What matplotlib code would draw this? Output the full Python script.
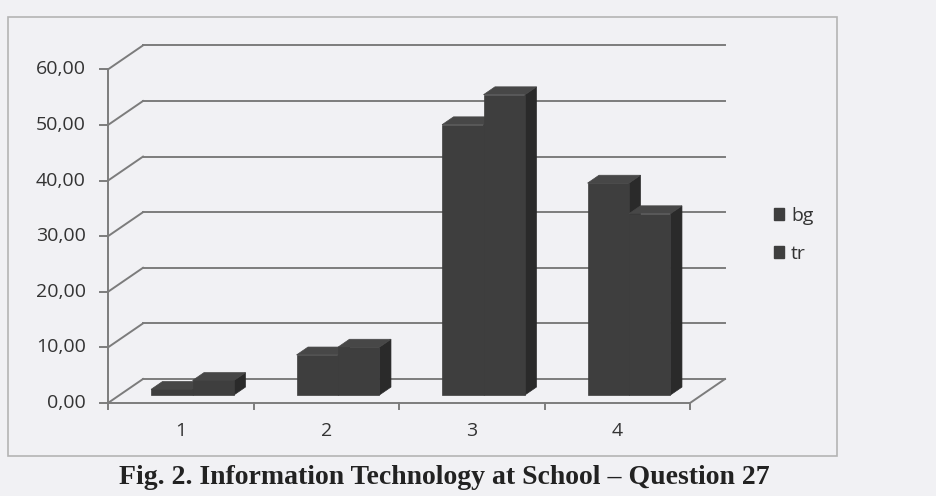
import matplotlib.pyplot as plt
from matplotlib.patches import Polygon, Rectangle, Patch

# === DATA ===
categories = ["1", "2", "3", "4"]
series_names = ["bg", "tr"]
bg_values = [1.0, 7.2, 48.6, 38.1]
tr_values = [2.6, 8.6, 54.0, 32.6]
y_ticks = [0, 10, 20, 30, 40, 50, 60]
y_tick_labels = ["0,00", "10,00", "20,00", "30,00", "40,00", "50,00", "60,00"]
caption = "Fig. 2. Information Technology at School \u2013 Question 27"

# === SETTINGS ===
W, H, DPI = 936, 496, 100
bg_color = "#f1f1f4"
grid_color = "#7c7c7c"
text_color = "#333333"
face_front = "#3e3e3e"
face_top = "#474747"
face_side = "#2a2a2a"

# pixel layout of the projected plot box
px_x0, px_cat = 108, 145.5       # left front floor corner, pixels per category
px_y0, px_val = 403, 5.56        # front zero line, pixels per value unit
depth_px = (35, 24)              # floor depth offset (right, up) in pixels
DX = depth_px[0] / px_cat
DY = depth_px[1] / px_val
d_front, d_back = 0.336, 0.664   # bar depth position as a fraction of floor depth
bar_w = 0.285


def xd(px):
    return 0.5 + (px - px_x0) / px_cat


def yd(py):
    return (px_y0 - py) / px_val


fig = plt.figure(figsize=(W / DPI, H / DPI), dpi=DPI, facecolor=bg_color)
ax = fig.add_axes([0, 0, 1, 1])
ax.set_xlim(xd(0), xd(W))
ax.set_ylim(yd(H), yd(0))
ax.axis("off")

n = len(categories)
x_left, x_right = 0.5, n + 0.5
ymax = y_ticks[-1]

# === WALLS / GRID ===
for v, lab in zip(y_ticks, y_tick_labels):
    # back wall line
    ax.plot([x_left + DX, x_right + DX], [v + DY, v + DY], color=grid_color, lw=1.4, zorder=1)
    # side wall diagonal
    ax.plot([x_left, x_left + DX], [v, v + DY], color=grid_color, lw=1.4, zorder=1)
    # y tick
    ax.plot([x_left - 8 / px_cat, x_left], [v, v], color=grid_color, lw=1.4, zorder=1)
    ax.text(xd(86), v, lab, ha="right", va="center",
            fontsize=14, family="Open Sans", color=text_color)

# floor
ax.plot([x_left, x_right], [0, 0], color=grid_color, lw=1.4, zorder=1)
ax.plot([x_right, x_right + DX], [0, DY], color=grid_color, lw=1.4, zorder=1)
ax.plot([x_left, x_left], [0, ymax], color=grid_color, lw=1.4, zorder=1)
for i in range(n + 1):
    xb = x_left + i
    ax.plot([xb, xb], [0, -6 / px_val], color=grid_color, lw=1.4, zorder=1)
for i, c in enumerate(categories):
    ax.text(i + 1, yd(431), c, ha="center", va="center", fontsize=14,
            family="Open Sans", color=text_color)


# === BARS ===
def draw_bar(x0, x1, h):
    fx, fy = d_front * DX, d_front * DY
    bx, by = d_back * DX, d_back * DY
    front = [(x0 + fx, fy), (x1 + fx, fy), (x1 + fx, h + fy), (x0 + fx, h + fy)]
    top = [(x0 + fx, h + fy), (x1 + fx, h + fy), (x1 + bx, h + by), (x0 + bx, h + by)]
    side = [(x1 + fx, fy), (x1 + bx, by), (x1 + bx, h + by), (x1 + fx, h + fy)]
    ax.add_patch(Polygon(side, closed=True, facecolor=face_side, edgecolor=face_side, lw=0.5, zorder=3))
    ax.add_patch(Polygon(top, closed=True, facecolor=face_top, edgecolor=face_top, lw=0.5, zorder=3))
    ax.add_patch(Polygon(front, closed=True, facecolor=face_front, edgecolor=face_front, lw=0.5, zorder=3))


for i in range(n):
    cx = i + 1
    draw_bar(cx - bar_w, cx, bg_values[i])
    draw_bar(cx, cx + bar_w, tr_values[i])

# === LEGEND ===
handles = [Patch(facecolor=face_front, edgecolor=face_front, label=s) for s in series_names]
leg = ax.legend(handles=handles, loc="center left", bbox_to_anchor=(756 / W, 1 - 235 / H),
                bbox_transform=fig.transFigure, frameon=False, handlelength=0.55,
                handleheight=0.55, handletextpad=0.35, labelspacing=1.05,
                prop={"family": "Open Sans", "size": 14})
for t in leg.get_texts():
    t.set_color(text_color)

# === FRAME + CAPTION ===
fig.patches.append(Rectangle((8 / W, 1 - 456 / H), 829 / W, 439 / H, transform=fig.transFigure,
                             fill=False, edgecolor="#b4b4b4", lw=1.2))
fig.text(444 / W, 1 - 477 / H, caption, ha="center", va="center", fontsize=20,
         family="Liberation Serif", weight="bold", color="#222222")

fig.savefig("out.png", dpi=DPI, facecolor=bg_color)
